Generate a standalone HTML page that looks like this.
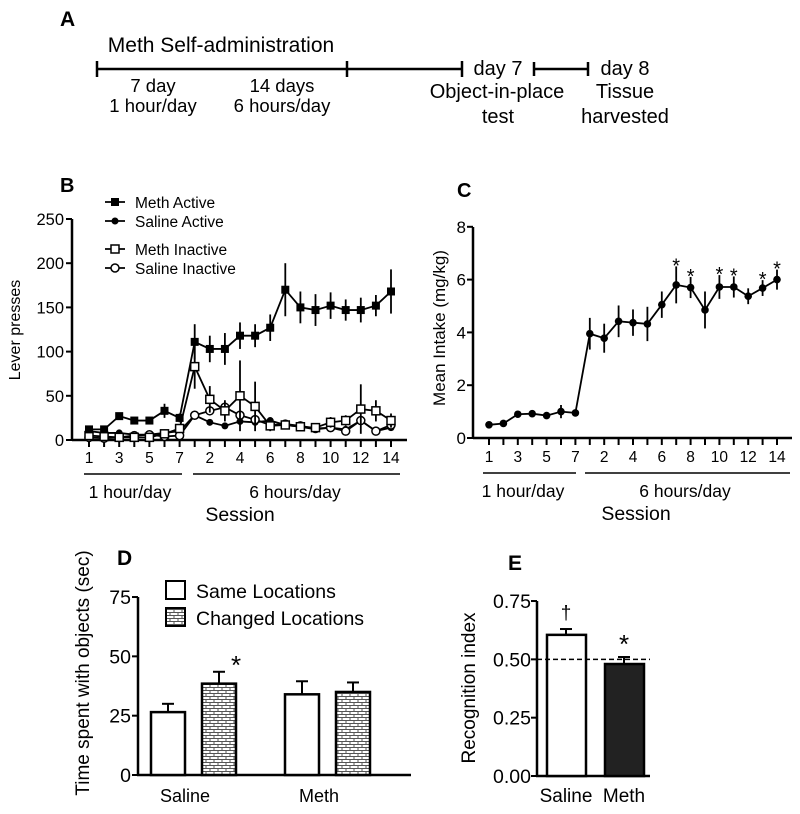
<!DOCTYPE html>
<html><head><meta charset="utf-8"><style>
body{margin:0;background:#fff;width:800px;height:814px;overflow:hidden}
svg{display:block;font-family:"Liberation Sans",Arial,sans-serif}
</style></head><body>
<svg id="fig" width="800" height="814" viewBox="0 0 800 814">
<g id="panelA" stroke="#000" stroke-width="2.5" fill="none">
<text x="60" y="26" font-size="21" font-weight="bold" fill="#000" stroke="none">A</text>
<line x1="97" y1="69" x2="462" y2="69"/><line x1="97" y1="61" x2="97" y2="77"/><line x1="347" y1="61" x2="347" y2="77"/><line x1="462" y1="61" x2="462" y2="77"/>
<line x1="534" y1="69" x2="588" y2="69"/><line x1="534" y1="62" x2="534" y2="76"/><line x1="588" y1="62" x2="588" y2="76"/>
<g fill="#000" stroke="none" font-size="20" text-anchor="middle">
<text x="221" y="52" font-size="21">Meth Self-administration</text>
<text x="153" y="92" font-size="18.5">7 day</text>
<text x="153" y="112" font-size="18.5">1 hour/day</text>
<text x="282" y="92" font-size="18.5">14 days</text>
<text x="282" y="112" font-size="18.5">6 hours/day</text>
<text x="498" y="75">day 7</text>
<text x="497" y="98">Object-in-place</text>
<text x="498" y="123">test</text>
<text x="625" y="75">day 8</text>
<text x="625" y="98">Tissue</text>
<text x="625" y="123">harvested</text>
</g></g>
<g id="panelB"></g>
<g id="panelC"></g>
<g id="panelD"></g>
<g id="panelE"></g>
<defs><pattern id="brick" width="8" height="6" patternUnits="userSpaceOnUse">
<rect width="8" height="6" fill="#fff"/><path d="M0 0.5H8M0 3.5H8M2 0.5V3.5M6 3.5V6" stroke="#555" stroke-width="1" fill="none"/></pattern></defs>
</svg>
<script>
const NS="http://www.w3.org/2000/svg";
function el(p,t,a,txt){const e=document.createElementNS(NS,t);for(const k in a)e.setAttribute(k,a[k]);if(txt!==undefined)e.textContent=txt;p.appendChild(e);return e;}

// ---- Panel B data
const sessionsB=[1,2,3,4,5,6,7,8,9,10,11,12,13,14,15,16,17,18,19,20,21];
const methActive=[12,12,27,22,22,33,25,111,103,103,118,118,127,170,150,147,152,147,147,152,168];
const methActiveErr=[3,3,3,2,2,8,5,20,15,18,15,13,15,30,18,18,15,12,14,12,25];
const salineActive=[10,8,8,6,6,8,10,28,20,16,21,20,22,17,15,12,14,12,22,10,14];
const methInactive=[5,4,3,3,3,7,13,83,46,33,50,38,16,17,15,14,20,22,35,33,22];
const methInactiveErr=[2,2,1,1,1,2,3,25,15,12,40,28,6,4,4,3,6,6,28,12,8];
const salineInactive=[3,2,3,5,6,4,5,28,33,37,28,23,17,18,16,13,14,10,22,10,17];
const tickLabelsB=["1","3","5","7","2","4","6","8","10","12","14"];
const yTicksB=[0,50,100,150,200,250];

// ---- Panel C data
const intake=[0.5,0.55,0.9,0.92,0.85,1.0,0.95,3.95,3.78,4.42,4.37,4.32,5.05,5.8,5.7,4.85,5.72,5.72,5.37,5.68,6.0];
const intakeErr=[0.03,0.03,0.08,0.06,0.06,0.25,0.08,0.6,0.55,0.6,0.5,0.65,0.5,0.7,0.4,0.7,0.45,0.4,0.3,0.3,0.38];
const starsC=[14,15,17,18,20,21];
const yTicksC=[0,2,4,6,8];

// ---- Panel D data
const groupsD=["Saline","Meth"];
const sameLoc=[26.5,34];
const sameErr=[3.5,5.5];
const changedLoc=[38.5,35];
const changedErr=[5,4];
const yTicksD=[0,25,50,75];

// ---- Panel E data
const groupsE=["Saline","Meth"];
const recog=[0.605,0.48];
const recogErr=[0.025,0.03];
const yTicksE=["0.00","0.25","0.50","0.75"];

function sessionAxis(g,x0,x1,y0,f,labelsY,brackets,hours,sess){
  el(g,"line",{x1:x0,y1:y0,x2:x1,y2:y0,stroke:"#000","stroke-width":2.5});
  sessionsB.forEach(s=>el(g,"line",{x1:f(s),y1:y0,x2:f(s),y2:y0+7,stroke:"#000","stroke-width":2}));
  tickLabelsB.forEach((t,i)=>{const s=i<4?1+2*i:9+2*(i-4);
    const tx=el(g,"text",{x:f(s),y:labelsY,"font-size":15.5,"text-anchor":"middle"},t);
    
    });
  el(g,"line",{x1:brackets[0],y1:labelsY+11,x2:brackets[1],y2:labelsY+11,stroke:"#000","stroke-width":1.5});
  el(g,"line",{x1:brackets[2],y1:labelsY+11,x2:brackets[3],y2:labelsY+11,stroke:"#000","stroke-width":1.5});
  el(g,"text",{x:hours[0],y:labelsY+35,"font-size":17.5,"text-anchor":"middle",},"1 hour/day");
  el(g,"text",{x:hours[1],y:labelsY+35,"font-size":17.5,"text-anchor":"middle",},"6 hours/day");
  el(g,"text",{x:sess,y:labelsY+58,"font-size":19.5,"text-anchor":"middle",},"Session");
}

// ---- Panel B
(function(){
  const g=document.getElementById("panelB");
  const X=s=>89+(s-1)*15.1, Y=v=>440-v*0.884;
  el(g,"text",{x:60,y:192,"font-size":20,"font-weight":"bold",},"B");
  el(g,"line",{x1:72,y1:219,x2:72,y2:441,stroke:"#000","stroke-width":2.5});
  yTicksB.forEach(v=>{el(g,"line",{x1:66,y1:Y(v),x2:72,y2:Y(v),stroke:"#000","stroke-width":2});
    const t=el(g,"text",{x:64,y:Y(v)+6,"font-size":16.5,"text-anchor":"end"},v);
    
    });
  el(g,"text",{x:0,y:0,"font-size":16,"text-anchor":"middle",transform:"translate(20,330) rotate(-90)",},"Lever presses");
  sessionAxis(g,72,407,440,X,463,[84,182,193,400],[130,295],240);
  function series(vals,errs,marker,name){
    const s=el(g,"g",{});
    
    
    if(errs) vals.forEach((v,i)=>el(s,"line",{x1:X(sessionsB[i]),y1:Y(v-errs[i]),x2:X(sessionsB[i]),y2:Y(v+errs[i]),stroke:"#000","stroke-width":1.8}));
    el(s,"polyline",{points:vals.map((v,i)=>X(sessionsB[i])+","+Y(v)).join(" "),fill:"none",stroke:"#000","stroke-width":1.8});
    vals.forEach((v,i)=>{const x=X(sessionsB[i]),y=Y(v);
      if(marker=="fs")el(s,"rect",{x:x-4,y:y-4,width:8,height:8,fill:"#000"});
      else if(marker=="fc")el(s,"circle",{cx:x,cy:y,r:3.5,fill:"#000"});
      else if(marker=="os")el(s,"rect",{x:x-4,y:y-4,width:8,height:8,fill:"#fff",stroke:"#000","stroke-width":1.5});
      else el(s,"circle",{cx:x,cy:y,r:4,fill:"#fff",stroke:"#000","stroke-width":1.5});});
  }
  series(salineActive,null,"fc","saline-active-series");
  series(salineInactive,null,"oc","saline-inactive-series");
  series(methInactive,methInactiveErr,"os","meth-inactive-series");
  series(methActive,methActiveErr,"fs","meth-active-series");
  const leg=[["Meth Active","fs",202],["Saline Active","fc",221],["Meth Inactive","os",249],["Saline Inactive","oc",268]];
  leg.forEach(l=>{const lg=el(g,"g",{});
    
    
    el(lg,"line",{x1:105,y1:l[2],x2:125,y2:l[2],stroke:"#000","stroke-width":1.8});
    if(l[1]=="fs")el(lg,"rect",{x:111,y:l[2]-4,width:8,height:8});
    else if(l[1]=="fc")el(lg,"circle",{cx:115,cy:l[2],r:3.5});
    else if(l[1]=="os")el(lg,"rect",{x:111,y:l[2]-4,width:8,height:8,fill:"#fff",stroke:"#000","stroke-width":1.5});
    else el(lg,"circle",{cx:115,cy:l[2],r:4,fill:"#fff",stroke:"#000","stroke-width":1.5});
    el(lg,"text",{x:135,y:l[2]+6,"font-size":15.5},l[0]);});
})();

// ---- Panel C
(function(){
  const g=document.getElementById("panelC");
  const X=s=>489+(s-1)*14.4, Y=v=>438-v*26.4;
  el(g,"text",{x:457,y:197,"font-size":20,"font-weight":"bold",},"C");
  el(g,"line",{x1:473,y1:227,x2:473,y2:439,stroke:"#000","stroke-width":2.5});
  yTicksC.forEach(v=>{el(g,"line",{x1:467,y1:Y(v),x2:473,y2:Y(v),stroke:"#000","stroke-width":2});
    const t=el(g,"text",{x:466,y:Y(v)+6,"font-size":17,"text-anchor":"end"},v);
    
    });
  el(g,"text",{x:0,y:0,"font-size":17,"text-anchor":"middle",transform:"translate(445,328) rotate(-90)",},"Mean Intake (mg/kg)");
  sessionAxis(g,473,792,438,X,462,[483,576,585,790],[523,685],636);
  const s=el(g,"g",{});
  
  
  intake.forEach((v,i)=>el(s,"line",{x1:X(sessionsB[i]),y1:Y(v-intakeErr[i]),x2:X(sessionsB[i]),y2:Y(v+intakeErr[i]),stroke:"#000","stroke-width":1.8}));
  el(s,"polyline",{points:intake.map((v,i)=>X(sessionsB[i])+","+Y(v)).join(" "),fill:"none",stroke:"#000","stroke-width":1.8});
  intake.forEach((v,i)=>el(s,"circle",{cx:X(sessionsB[i]),cy:Y(v),r:3.8}));
  starsC.forEach(k=>{const t=el(g,"text",{x:X(k),y:Y(intake[k-1]+intakeErr[k-1])+6,"font-size":20,"text-anchor":"middle"},"*");
    
    });
})();

// ---- Panel D
(function(){
  const g=document.getElementById("panelD");
  const Y=v=>775-v*2.373, gx=[185,319];
  el(g,"text",{x:117,y:565,"font-size":21,"font-weight":"bold",},"D");
  el(g,"line",{x1:138,y1:597,x2:138,y2:776,stroke:"#000","stroke-width":2.5});
  el(g,"line",{x1:137,y1:775,x2:411,y2:775,stroke:"#000","stroke-width":2.5});
  yTicksD.forEach(v=>{el(g,"line",{x1:132,y1:Y(v),x2:138,y2:Y(v),stroke:"#000","stroke-width":2});
    const t=el(g,"text",{x:131,y:Y(v)+7,"font-size":19.5,"text-anchor":"end"},v);
    
    });
  el(g,"text",{x:0,y:0,"font-size":19,"text-anchor":"middle",transform:"translate(89,673) rotate(-90)",},"Time spent with objects (sec)");
  groupsD.forEach((n,i)=>{
    const t=el(g,"text",{x:gx[i]+(i?0:0),y:802,"font-size":18,"text-anchor":"middle"},n);
    
    
    [[sameLoc,sameErr,"#fff",-34,"same-locations-bar"],[changedLoc,changedErr,"url(#brick)",17,"changed-locations-bar"]].forEach(b=>{
      const v=b[0][i],e=b[1][i],x=gx[i]+b[3];
      el(g,"line",{x1:x+17,y1:Y(v),x2:x+17,y2:Y(v+e),stroke:"#000","stroke-width":2});
      el(g,"line",{x1:x+11,y1:Y(v+e),x2:x+23,y2:Y(v+e),stroke:"#000","stroke-width":2});
      const r=el(g,"rect",{x:x,y:Y(v),width:34,height:775-Y(v),fill:b[2],stroke:"#000","stroke-width":2.5});
      
      });
  });
  el(g,"text",{x:236,y:Y(changedLoc[0]+changedErr[0])+2,"font-size":26,"text-anchor":"middle",},"*");
  el(g,"rect",{x:166,y:581,width:19,height:18,fill:"#fff",stroke:"#000","stroke-width":2,});
  el(g,"text",{x:196,y:598,"font-size":19.5,},"Same Locations");
  el(g,"rect",{x:166,y:608,width:19,height:18,fill:"url(#brick)",stroke:"#000","stroke-width":2,});
  el(g,"text",{x:196,y:625,"font-size":19.5,},"Changed Locations");
})();

// ---- Panel E
(function(){
  const g=document.getElementById("panelE");
  const Y=v=>776-v*233.3, bx=[547,605];
  el(g,"text",{x:508,y:570,"font-size":21,"font-weight":"bold",},"E");
  el(g,"line",{x1:537,y1:601,x2:537,y2:777,stroke:"#000","stroke-width":2.5});
  el(g,"line",{x1:536,y1:776,x2:650,y2:776,stroke:"#000","stroke-width":2.5});
  yTicksE.forEach(v=>{el(g,"line",{x1:531,y1:Y(+v),x2:537,y2:Y(+v),stroke:"#000","stroke-width":2});
    const t=el(g,"text",{x:531,y:Y(+v)+7,"font-size":19.5,"text-anchor":"end"},v);
    
    });
  el(g,"text",{x:0,y:0,"font-size":19,"text-anchor":"middle",transform:"translate(475,688) rotate(-90)",},"Recognition index");
  groupsE.forEach((n,i)=>{
    const v=recog[i],e=recogErr[i],x=bx[i];
    el(g,"line",{x1:x+19,y1:Y(v),x2:x+19,y2:Y(v+e),stroke:"#000","stroke-width":2});
    el(g,"line",{x1:x+13,y1:Y(v+e),x2:x+25,y2:Y(v+e),stroke:"#000","stroke-width":2});
    const r=el(g,"rect",{x:x,y:Y(v),width:39,height:776-Y(v),fill:i?"#222":"#fff",stroke:"#000","stroke-width":2.5});
    
    
    const t=el(g,"text",{x:x+19,y:802,"font-size":19,"text-anchor":"middle"},n);
    
    
  });
  el(g,"line",{x1:537,y1:Y(0.5),x2:650,y2:Y(0.5),stroke:"#000","stroke-width":1.5,"stroke-dasharray":"5,3",});
  el(g,"text",{x:bx[0]+19,y:Y(recog[0]+recogErr[0])-10,"font-size":19,"text-anchor":"middle",},"†");
  el(g,"text",{x:bx[1]+19,y:Y(recog[1]+recogErr[1])-4,"font-size":26,"text-anchor":"middle",},"*");
})();
</script>
</body></html>
